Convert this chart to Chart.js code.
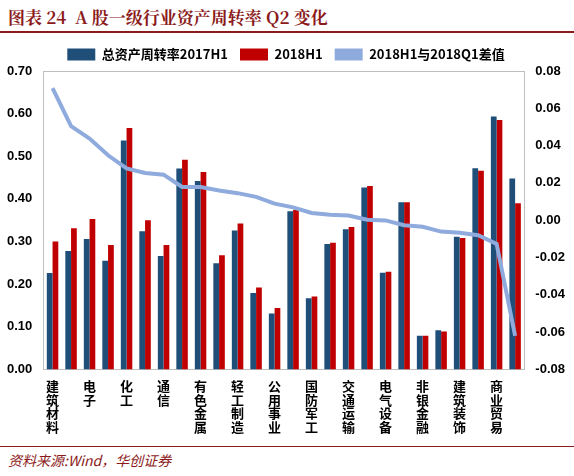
<!DOCTYPE html>
<html lang="zh">
<head>
<meta charset="UTF-8">
<script src="https://cdn.jsdelivr.net/npm/chart.js@4/dist/chart.umd.min.js"></script>
<style>
  body { margin: 0; width: 574px; height: 476px; background: #fff; font-family: "Noto Sans CJK SC", sans-serif; overflow: hidden; }
  #title { position: absolute; left: 8px; top: 4px; font-size: 17px; font-weight: bold; color: #8b1a1a; font-family: "Noto Serif CJK SC", "Noto Sans CJK SC", serif; }
  #rule { position: absolute; left: 0; top: 31px; width: 574px; height: 2px; background: #8b1a1a; }
  #wrap { position: absolute; left: 0; top: 36px; width: 574px; height: 400px; }
  #src { position: absolute; left: 8px; top: 450px; font-size: 14px; font-style: italic; color: #8b1a1a; }
  #rule2 { position: absolute; left: 0; top: 446px; width: 574px; height: 1px; background: #8b1a1a; }
</style>
</head>
<body>
<div id="title">图表 24&nbsp;&nbsp;A 股一级行业资产周转率 Q2 变化</div>
<div id="rule"></div>
<div id="wrap"><canvas id="c"></canvas></div>
<div id="rule2"></div>
<div id="src">资料来源:Wind，华创证券</div>
<script>
const categories = ['建筑材料','钢铁','电子','机械设备','化工','汽车','通信','纺织服装','有色金属','家用电器',
  '轻工制造','计算机','公用事业','医药生物','国防军工','食品饮料','交通运输','传媒','电气设备','农林牧渔',
  '非银金融','银行','建筑装饰','房地产','商业贸易','休闲服务'];
const turnover2017H1 = [0.226,0.278,0.306,0.255,0.537,0.324,0.266,0.471,0.442,0.249,0.326,0.179,0.131,0.371,
  0.167,0.294,0.329,0.427,0.227,0.392,0.079,0.092,0.311,0.472,0.593,0.448];
const turnover2018H1 = [0.300,0.331,0.353,0.292,0.566,0.350,0.292,0.492,0.463,0.268,0.342,0.192,0.144,0.374,
  0.171,0.297,0.334,0.430,0.229,0.392,0.079,0.089,0.308,0.466,0.585,0.390];
const diffQ2Q1 = [0.0708,0.0504,0.0438,0.0348,0.0278,0.0253,0.0244,0.0178,0.0178,0.0159,0.0145,0.0125,0.0089,
  0.0069,0.0039,0.0029,0.0025,0.0003,-0.0001,-0.0027,-0.0035,-0.0061,-0.0067,-0.0081,-0.0127,-0.062];

const tickFont = { size: 13, weight: 'bold', family: 'Liberation Sans, Noto Sans CJK SC' };
new Chart(document.getElementById('c'), {
  data: {
    labels: categories.map(s => s.split('')),
    datasets: [
      { type: 'line', label: '2018H1与2018Q1差值', data: diffQ2Q1, borderColor: '#8faadc', backgroundColor: '#8faadc', borderWidth: 4, pointRadius: 0, tension: 0, yAxisID: 'y2' },
      { type: 'bar', label: '总资产周转率2017H1', data: turnover2017H1, backgroundColor: '#1f4e79', yAxisID: 'y', categoryPercentage: 0.62, barPercentage: 1 },
      { type: 'bar', label: '2018H1', data: turnover2018H1, backgroundColor: '#c00000', yAxisID: 'y', categoryPercentage: 0.62, barPercentage: 1 }
    ]
  },
  options: {
    responsive: true, maintainAspectRatio: false, animation: false,
    layout: { padding: { left: 4, right: 6, top: 0 } },
    plugins: {
      legend: { position: 'top', labels: { font: { size: 13, weight: 'bold', family: 'Noto Sans CJK SC' }, color: '#000', boxWidth: 28, boxHeight: 12, padding: 12,
        sort: (a, b) => ((a.datasetIndex + 2) % 3) - ((b.datasetIndex + 2) % 3),
        generateLabels(chart) {
          const items = Chart.defaults.plugins.legend.labels.generateLabels(chart);
          items.forEach(it => { if (it.datasetIndex === 0) { it.fillStyle = '#8faadc'; it.strokeStyle = '#8faadc'; it.lineWidth = 0; } });
          return items;
        } } },
      tooltip: { enabled: false }
    },
    scales: {
      x: { grid: { display: false }, border: { color: '#bfbfbf' },
        ticks: { autoSkip: false, maxRotation: 0, padding: 2, color: '#000', font: { size: 13, weight: 'bold', family: 'Noto Sans CJK SC', lineHeight: 1.05 },
          callback(v, i) { return i % 2 === 0 ? this.getLabelForValue(v) : ''; } } },
      y: { min: 0, max: 0.7, position: 'left', grid: { display: false }, border: { color: '#bfbfbf' },
        ticks: { stepSize: 0.1, color: '#000', font: tickFont, callback: v => v.toFixed(2) } },
      y2: { min: -0.08, max: 0.08, position: 'right', grid: { display: false }, border: { color: '#bfbfbf' },
        ticks: { stepSize: 0.02, color: '#000', font: tickFont, callback: v => v.toFixed(2) } }
    }
  },
  plugins: [{ id: 'frame', afterDraw(chart) {
    const a = chart.chartArea, ctx = chart.ctx;
    ctx.save(); ctx.strokeStyle = '#bfbfbf'; ctx.lineWidth = 1;
    ctx.beginPath(); ctx.moveTo(a.left, a.top + 0.5); ctx.lineTo(a.right, a.top + 0.5); ctx.stroke(); ctx.restore();
  } }]
});
</script>
</body>
</html>
